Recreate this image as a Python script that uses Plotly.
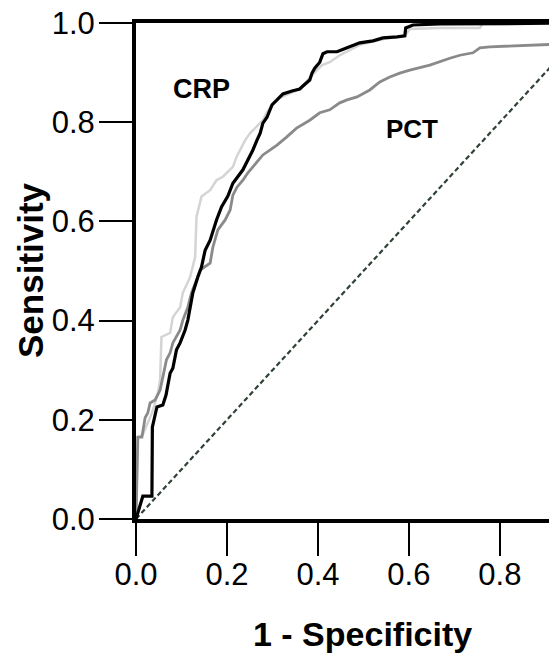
import plotly.graph_objects as go

# ROC curve coordinates: false positive rate (1 - specificity) vs sensitivity
crp_fpr = [0.0, 0.015, 0.035, 0.036, 0.046, 0.059, 0.066, 0.075, 0.081, 0.089, 0.097, 0.108,
           0.114, 0.119, 0.125, 0.136, 0.144, 0.152, 0.163, 0.177, 0.188, 0.202, 0.213, 0.235,
           0.246, 0.257, 0.266, 0.273, 0.279, 0.288, 0.299, 0.310, 0.323, 0.343, 0.360, 0.367,
           0.382, 0.387, 0.393, 0.404, 0.411, 0.420, 0.442, 0.464, 0.477, 0.492, 0.521, 0.543,
           0.574, 0.591, 0.593, 0.609, 0.668, 1.0]
crp_tpr = [0.0, 0.046, 0.046, 0.185, 0.226, 0.230, 0.250, 0.294, 0.304, 0.341, 0.355, 0.381,
           0.401, 0.427, 0.456, 0.488, 0.508, 0.542, 0.562, 0.603, 0.629, 0.651, 0.677, 0.704,
           0.724, 0.744, 0.764, 0.778, 0.798, 0.810, 0.835, 0.845, 0.857, 0.863, 0.867, 0.873,
           0.885, 0.899, 0.909, 0.921, 0.938, 0.942, 0.942, 0.950, 0.954, 0.960, 0.964, 0.970,
           0.972, 0.974, 0.990, 0.996, 0.998, 1.0]

combo_fpr = [0.0, 0.002, 0.004, 0.015, 0.026, 0.035, 0.042, 0.048, 0.053, 0.056, 0.075, 0.081,
             0.097, 0.103, 0.119, 0.130, 0.133, 0.144, 0.163, 0.177, 0.191, 0.213, 0.221, 0.229,
             0.240, 0.251, 0.265, 0.279, 0.287, 0.295, 0.299, 0.316, 0.360, 0.387, 0.409, 0.426,
             0.448, 0.492, 0.547, 0.591, 0.602, 0.668, 0.756, 0.763, 1.0]
combo_tpr = [0.0, 0.080, 0.165, 0.170, 0.195, 0.214, 0.234, 0.254, 0.280, 0.367, 0.375, 0.407,
             0.427, 0.456, 0.488, 0.528, 0.609, 0.650, 0.663, 0.683, 0.690, 0.710, 0.730, 0.744,
             0.764, 0.778, 0.791, 0.804, 0.819, 0.829, 0.835, 0.849, 0.867, 0.895, 0.915, 0.921,
             0.935, 0.956, 0.968, 0.974, 0.988, 0.990, 0.990, 1.0, 1.0]

pct_fpr = [0.0, 0.002, 0.004, 0.013, 0.020, 0.026, 0.031, 0.042, 0.053, 0.059, 0.067, 0.075,
           0.081, 0.097, 0.103, 0.114, 0.122, 0.133, 0.141, 0.163, 0.169, 0.180, 0.196, 0.207,
           0.213, 0.222, 0.235, 0.246, 0.265, 0.279, 0.295, 0.310, 0.331, 0.353, 0.382, 0.404,
           0.426, 0.448, 0.464, 0.486, 0.514, 0.536, 0.558, 0.580, 0.602, 0.631, 0.646, 0.690,
           0.712, 0.741, 0.756, 0.778, 0.908, 1.0, 1.0]
pct_tpr = [0.0, 0.129, 0.165, 0.165, 0.204, 0.214, 0.234, 0.240, 0.260, 0.286, 0.321, 0.335,
           0.355, 0.381, 0.401, 0.427, 0.456, 0.482, 0.502, 0.516, 0.548, 0.583, 0.603, 0.623,
           0.653, 0.669, 0.683, 0.698, 0.718, 0.734, 0.744, 0.754, 0.770, 0.788, 0.804, 0.819,
           0.825, 0.839, 0.845, 0.851, 0.865, 0.881, 0.891, 0.899, 0.905, 0.911, 0.915, 0.929,
           0.935, 0.940, 0.950, 0.952, 0.956, 0.960, 1.0]

ref_line = [0.0, 1.0]
x_ticks = [0.0, 0.2, 0.4, 0.6, 0.8]
y_ticks = [0.0, 0.2, 0.4, 0.6, 0.8, 1.0]

FONT = "Liberation Sans, Arial, sans-serif"

fig = go.Figure()
fig.add_trace(go.Scatter(x=ref_line, y=ref_line, mode="lines",
                         line=dict(color="#2f4234", width=2.2, dash="5px,3px")))
fig.add_trace(go.Scatter(x=combo_fpr, y=combo_tpr, mode="lines",
                         line=dict(color="#d4d4d4", width=2.5)))
fig.add_trace(go.Scatter(x=pct_fpr, y=pct_tpr, mode="lines",
                         line=dict(color="#8a8a8a", width=2.8)))
fig.add_trace(go.Scatter(x=crp_fpr, y=crp_tpr, mode="lines",
                         line=dict(color="#000000", width=3.2)))

fig.add_annotation(x=0.143, y=0.866, text="<b>CRP</b>", showarrow=False,
                   font=dict(family=FONT, size=27, color="black"))
fig.add_annotation(x=0.606, y=0.787, text="<b>PCT</b>", showarrow=False,
                   font=dict(family=FONT, size=26, color="black"))

# axis titles
fig.add_annotation(xref="paper", yref="paper", x=0.5496, y=-0.232,
                   text="<b>1 - Specificity</b>", showarrow=False,
                   xanchor="center", yanchor="middle",
                   font=dict(family=FONT, size=34, color="black"))
fig.add_annotation(xref="paper", yref="paper", x=-0.2567, y=0.502,
                   text="<b>Sensitivity</b>", showarrow=False, textangle=-90,
                   xanchor="center", yanchor="middle",
                   font=dict(family=FONT, size=35, color="black"))

fig.update_layout(
    width=549, height=653,
    margin=dict(l=136, r=0, t=23, b=134),
    plot_bgcolor="white", paper_bgcolor="white",
    showlegend=False,
    font=dict(family=FONT, color="black"),
)
fig.update_xaxes(range=[0, 0.908], tickvals=x_ticks, ticktext=[f"{v:.1f}" for v in x_ticks],
                 showgrid=False, zeroline=False, showline=True, linecolor="black",
                 linewidth=4, mirror=True, ticks="outside", ticklen=33, tickwidth=2,
                 tickcolor="black", tickfont=dict(size=31, family=FONT),
                 ticklabelstandoff=-8)
fig.update_yaxes(range=[0, 1.0], tickvals=y_ticks, ticktext=[f"{v:.1f}" for v in y_ticks],
                 showgrid=False, zeroline=False, showline=True, linecolor="black",
                 linewidth=4, ticks="outside", ticklen=33, tickwidth=2,
                 tickcolor="black", tickfont=dict(size=31, family=FONT),
                 ticklabelstandoff=-2)

fig.write_html("out.html")
